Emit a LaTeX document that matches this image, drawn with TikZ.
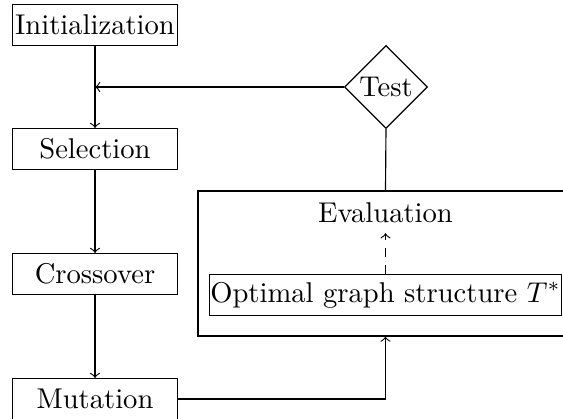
\documentclass[tikz,border=0pt]{standalone}
\usepackage{amsmath,amssymb}
\usepackage{tikz}
\usetikzlibrary{shapes.geometric}

\tikzset{
  stepbox/.style={draw, rectangle, inner sep=1pt, minimum width=57.7pt, minimum height=14.3pt},
  testbox/.style={draw, diamond, inner sep=0pt, minimum size=29pt},
}

\begin{document}
\begin{tikzpicture}[>=to, x=0.3497pt, y=0.3497pt]
\useasboundingbox (0,0) rectangle (563,419);
\node[stepbox] (init) at (95,394) {Initialization};
\node[stepbox] (sel) at (95,270) {Selection};
\node[stepbox] (cross) at (95,145) {Crossover};
\node[stepbox] (mut) at (95,20) {Mutation};
\node[testbox] (test) at (386,332) {Test};
\node[draw, inner sep=0pt, minimum width=131.1pt, minimum height=50.7pt] (evalbox) at (385.5,155.5) {};
\node (eval) at (385.5,206) {Evaluation};
\node[draw, inner sep=0.2pt, minimum height=14.3pt] (opt) at (385.5,124) {Optimal graph structure $T^*$};
\draw[->] (init) -- (sel);
\draw[->] (sel) -- (cross);
\draw[->] (cross) -- (mut);
\draw[->] (test.west) -- (test.west -| init);
\draw (test.south) -- (evalbox.north);
\draw[->] (mut.east) -| (evalbox.south);
\draw[->,dashed] (opt.north) -- (eval.south);
\end{tikzpicture}
\end{document}
